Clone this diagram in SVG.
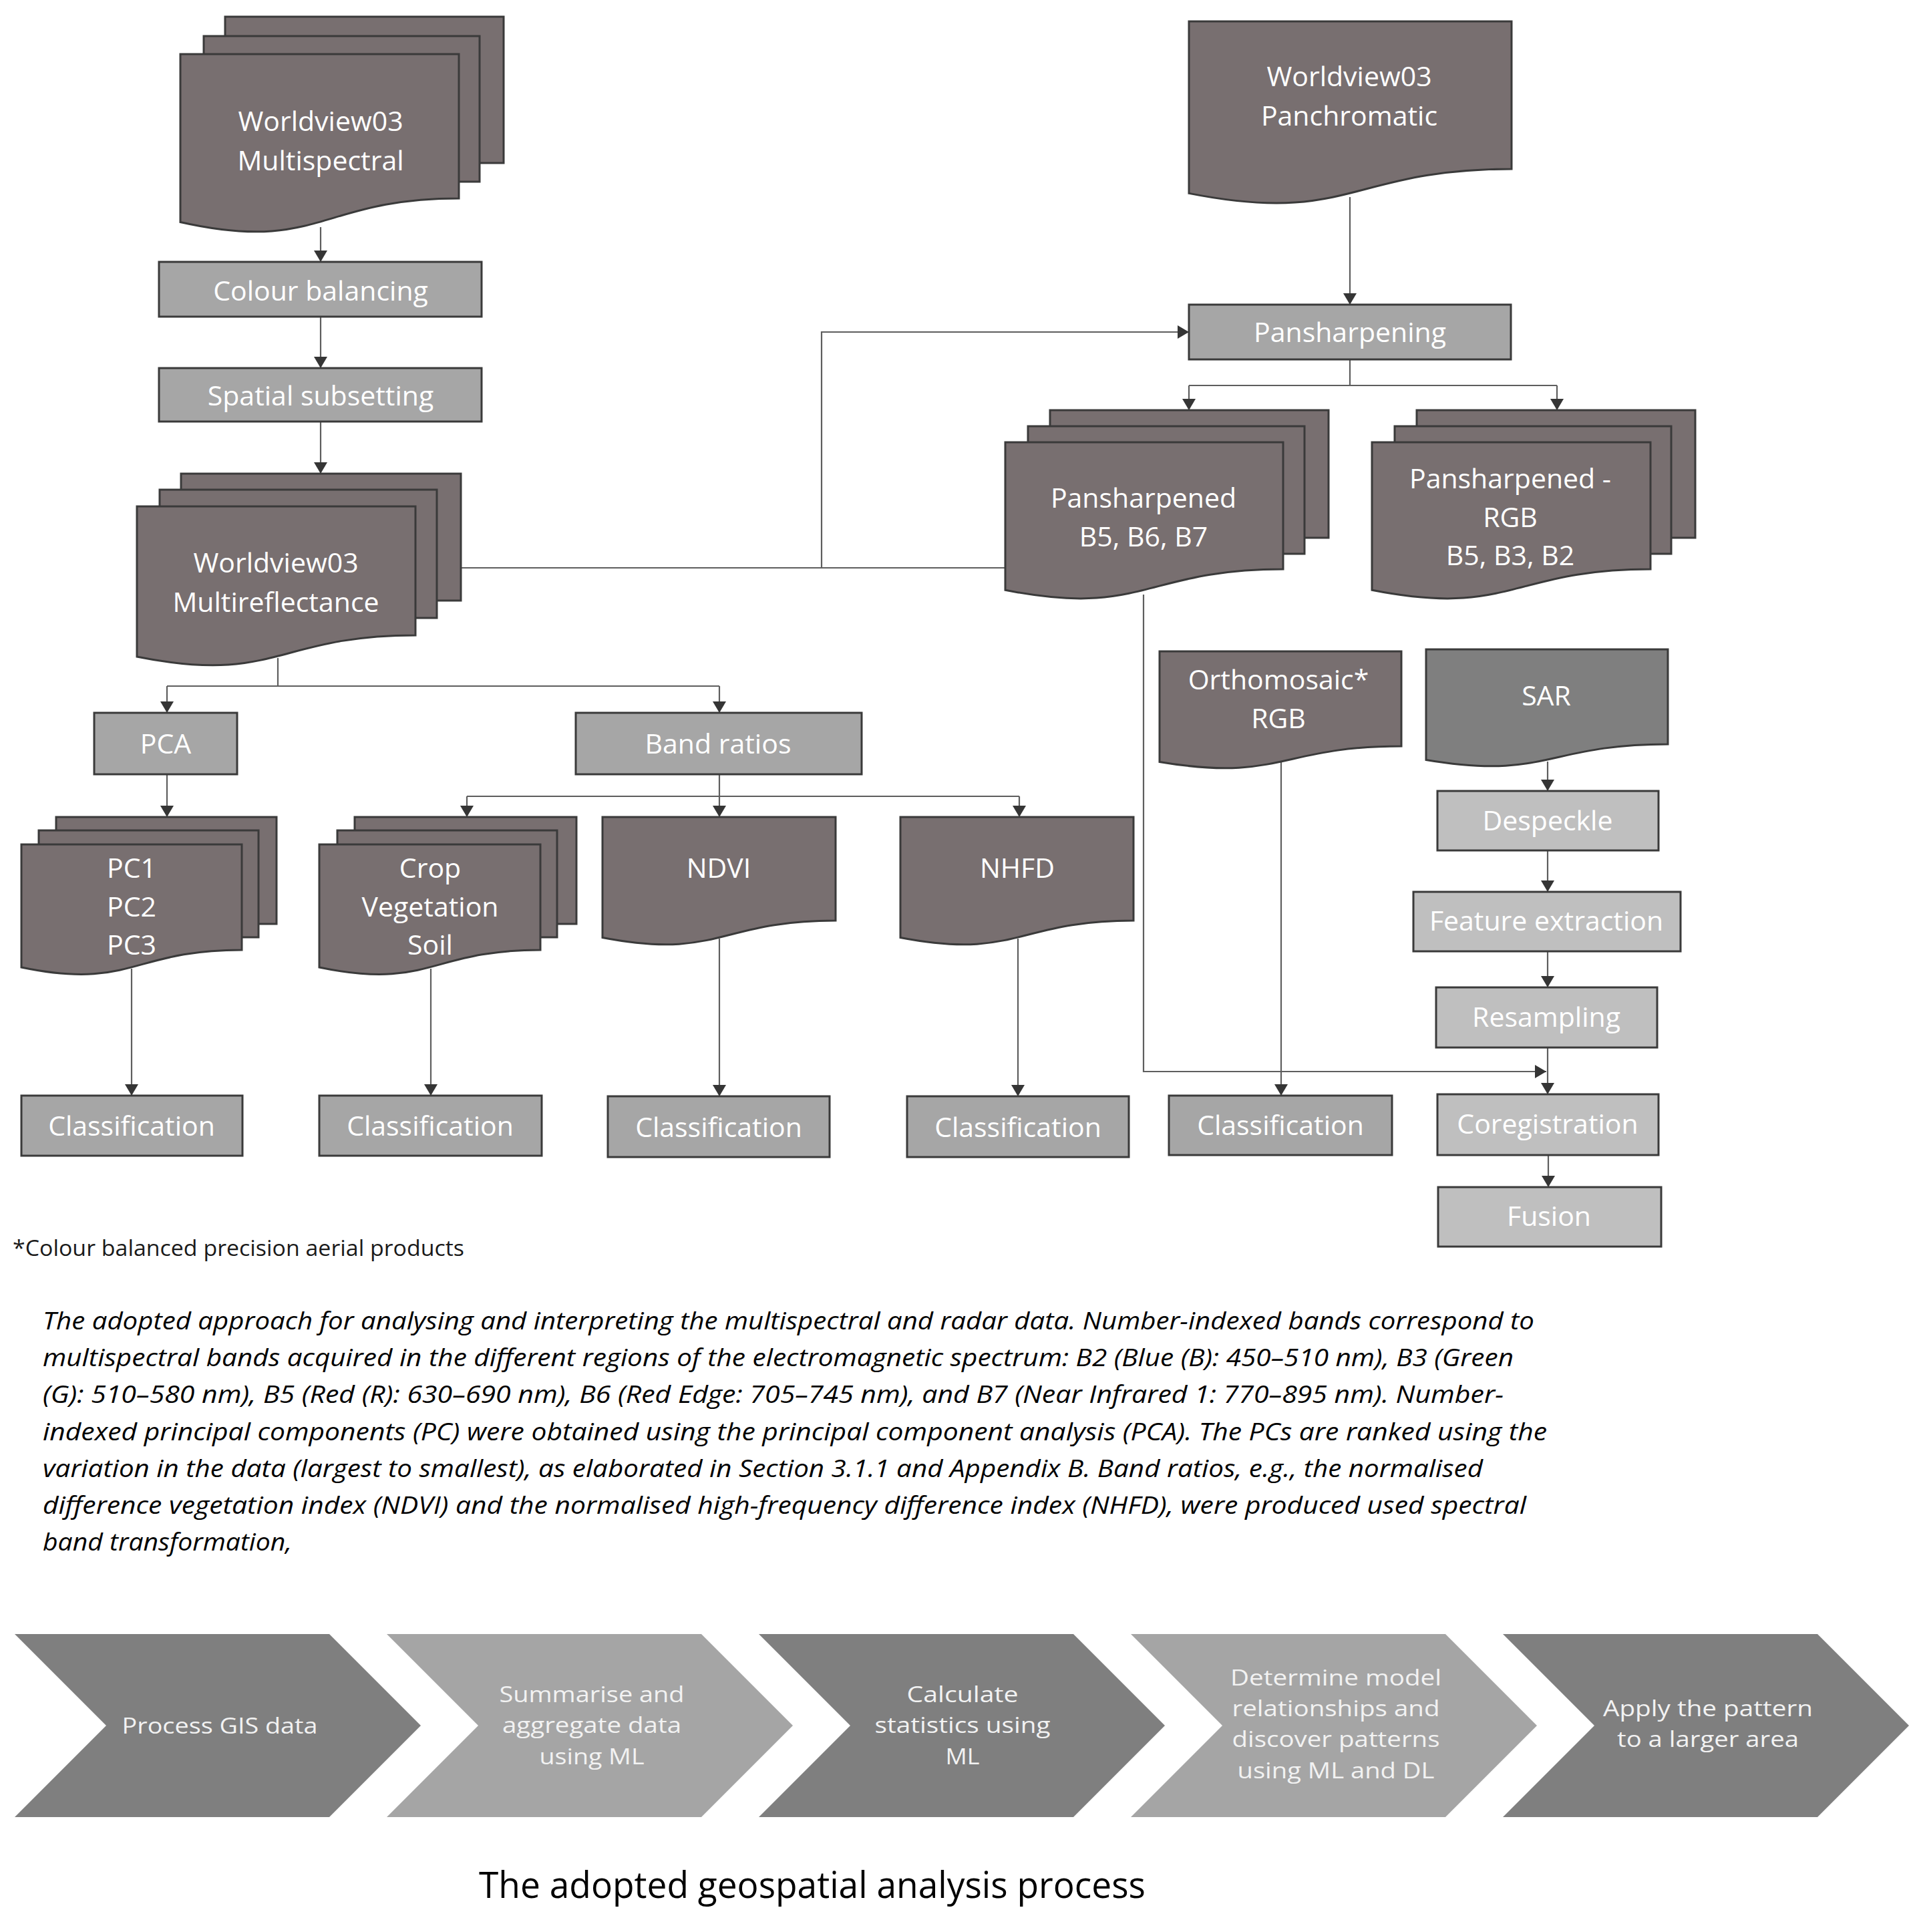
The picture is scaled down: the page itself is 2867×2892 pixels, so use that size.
<svg xmlns="http://www.w3.org/2000/svg" width="2867" height="2892" viewBox="0 0 2867 2892">
<defs>
<style>
.doc{fill:#786f70;stroke:#3a3a3a;stroke-width:3}
.sar{fill:#7f7f7f}
.box{fill:#a6a6a6;stroke:#3a3a3a;stroke-width:3}
.lbox{fill:#bfbfbf;stroke:#3a3a3a;stroke-width:3}
.lbl{font-family:"Open Sans","Noto Sans",sans-serif;font-size:41px;fill:#ffffff;text-anchor:middle}
.con{stroke:#5e5e5e;stroke-width:2.2;fill:none}
.arr{marker-end:url(#ah)}
.cap{font-family:"Open Sans","Noto Sans",sans-serif;font-size:36px;font-style:italic;fill:#000}
.note{font-family:"Open Sans","Noto Sans",sans-serif;font-size:32px;fill:#1a1a1a}
.chd{fill:#7f7f7f}
.chl{fill:#a5a5a5}
.cht{font-family:"Open Sans","Noto Sans",sans-serif;font-size:33px;fill:#f2f2f2;text-anchor:middle}
.title{font-family:"Open Sans","Noto Sans",sans-serif;font-size:55px;fill:#000}
</style>
<marker id="ah" viewBox="0 0 17 20" markerWidth="17" markerHeight="20" refX="17" refY="10" orient="auto" markerUnits="userSpaceOnUse">
<path d="M0,0 L17,10 L0,20 Z" fill="#353535"/>
</marker>
</defs>
<rect x="0" y="0" width="2867" height="2892" fill="#ffffff"/>

<g id="connectors">
<path class="con arr" d="M480,340 V392"/>
<path class="con arr" d="M480,474 V551"/>
<path class="con arr" d="M480,631 V709"/>
<path class="con" d="M680,850 H1510"/>
<path class="con arr" d="M1230,850 V497 H1780"/>
<path class="con arr" d="M2021,295 V456"/>
<path class="con" d="M2021,538 V577 M1780,577 H2331"/>
<path class="con arr" d="M1780,577 V614"/>
<path class="con arr" d="M2331,577 V614"/>
<path class="con" d="M416,985 V1027 M250,1027 H1077"/>
<path class="con arr" d="M250,1027 V1067"/>
<path class="con arr" d="M1077,1027 V1067"/>
<path class="con arr" d="M250,1159 V1223"/>
<path class="con" d="M1077,1159 V1192 M699,1192 H1526"/>
<path class="con arr" d="M699,1192 V1223"/>
<path class="con arr" d="M1077,1192 V1223"/>
<path class="con arr" d="M1526,1192 V1223"/>
<path class="con arr" d="M197,1450 V1640"/>
<path class="con arr" d="M645,1450 V1640"/>
<path class="con arr" d="M1077,1405 V1641"/>
<path class="con arr" d="M1524,1405 V1641"/>
<path class="con arr" d="M1918,1140 V1640"/>
<path class="con arr" d="M2317,1140 V1184"/>
<path class="con arr" d="M2317,1273 V1335"/>
<path class="con arr" d="M2317,1424 V1478"/>
<path class="con arr" d="M2317,1568 V1638"/>
<path class="con arr" d="M1712,890 V1604 H2315"/>
<path class="con arr" d="M2318,1729 V1777"/>
</g>

<g id="multispectral">
<rect class="doc" x="337" y="25" width="417" height="219"/>
<rect class="doc" x="305" y="54" width="413" height="218"/>
<path class="doc" d="M270,81 H687 V297 C478.5,297 478.5,379.3 270,332.5 Z"/>
<text class="lbl" x="480" y="196">Worldview03</text>
<text class="lbl" x="480" y="255">Multispectral</text>
</g>

<g id="colour-balancing">
<rect class="box" x="238" y="392" width="483" height="82"/>
<text class="lbl" x="480" y="450">Colour balancing</text>
</g>

<g id="spatial-subsetting">
<rect class="box" x="238" y="551" width="483" height="80"/>
<text class="lbl" x="480" y="607">Spatial subsetting</text>
</g>

<g id="multireflectance">
<rect class="doc" x="271" y="709" width="419" height="190"/>
<rect class="doc" x="239" y="733" width="415" height="192"/>
<path class="doc" d="M205,758 H622 V951 C413.5,951 413.5,1025 205,983 Z"/>
<text class="lbl" x="413" y="857">Worldview03</text>
<text class="lbl" x="413" y="916">Multireflectance</text>
</g>

<g id="panchromatic">
<path class="doc" d="M1780,32 H2263 V253 C2021.5,253 2021.5,337.2 1780,289.4 Z"/>
<text class="lbl" x="2020" y="129">Worldview03</text>
<text class="lbl" x="2020" y="188">Panchromatic</text>
</g>

<g id="pansharpening">
<rect class="box" x="1780" y="456" width="482" height="82"/>
<text class="lbl" x="2021" y="512">Pansharpening</text>
</g>

<g id="pansharpened-b567">
<rect class="doc" x="1572" y="614" width="417" height="191"/>
<rect class="doc" x="1539" y="638" width="414" height="191"/>
<path class="doc" d="M1505,662 H1921 V852 C1713,852 1713,924.4 1505,883.3 Z"/>
<text class="lbl" x="1712" y="760">Pansharpened</text>
<text class="lbl" x="1712" y="818">B5, B6, B7</text>
</g>

<g id="pansharpened-rgb">
<rect class="doc" x="2121" y="614" width="417" height="191"/>
<rect class="doc" x="2088" y="638" width="414" height="191"/>
<path class="doc" d="M2054,662 H2471 V852 C2262.5,852 2262.5,924.4 2054,883.3 Z"/>
<text class="lbl" x="2261" y="731">Pansharpened -</text>
<text class="lbl" x="2261" y="789">RGB</text>
<text class="lbl" x="2261" y="846">B5, B3, B2</text>
</g>

<g id="pca">
<rect class="box" x="141" y="1067" width="214" height="92"/>
<text class="lbl" x="248" y="1128">PCA</text>
</g>

<g id="band-ratios">
<rect class="box" x="862" y="1067" width="428" height="92"/>
<text class="lbl" x="1075" y="1128">Band ratios</text>
</g>

<g id="pc-stack">
<rect class="doc" x="84" y="1223" width="330" height="160"/>
<rect class="doc" x="58" y="1243" width="329" height="160"/>
<path class="doc" d="M32,1264 H362 V1422 C197,1422 197,1482.2 32,1448 Z"/>
<text class="lbl" x="197" y="1314">PC1</text>
<text class="lbl" x="197" y="1372">PC2</text>
<text class="lbl" x="197" y="1429">PC3</text>
</g>

<g id="crop-stack">
<rect class="doc" x="531" y="1223" width="332" height="160"/>
<rect class="doc" x="505" y="1243" width="329" height="160"/>
<path class="doc" d="M478,1264 H809 V1422 C643.5,1422 643.5,1482.2 478,1448 Z"/>
<text class="lbl" x="644" y="1314">Crop</text>
<text class="lbl" x="644" y="1372">Vegetation</text>
<text class="lbl" x="644" y="1429">Soil</text>
</g>

<g id="ndvi">
<path class="doc" d="M902,1223 H1251 V1378 C1076.5,1378 1076.5,1437.1 902,1403.5 Z"/>
<text class="lbl" x="1076" y="1314">NDVI</text>
</g>

<g id="nhfd">
<path class="doc" d="M1348,1223 H1697 V1378 C1522.5,1378 1522.5,1437.1 1348,1403.5 Z"/>
<text class="lbl" x="1523" y="1314">NHFD</text>
</g>

<g id="orthomosaic">
<path class="doc" d="M1736,975 H2098 V1117 C1917,1117 1917,1171.1 1736,1140.4 Z"/>
<text class="lbl" x="1914" y="1032">Orthomosaic*</text>
<text class="lbl" x="1914" y="1090">RGB</text>
</g>

<g id="sar">
<path class="doc sar" d="M2135,972 H2497 V1114 C2316,1114 2316,1168.1 2135,1137.4 Z"/>
<text class="lbl" x="2315" y="1056">SAR</text>
</g>

<g id="despeckle">
<rect class="lbox" x="2152" y="1184" width="331" height="89"/>
<text class="lbl" x="2317" y="1243">Despeckle</text>
</g>

<g id="feature-extraction">
<rect class="lbox" x="2116" y="1335" width="400" height="89"/>
<text class="lbl" x="2315" y="1393">Feature extraction</text>
</g>

<g id="resampling">
<rect class="lbox" x="2150" y="1478" width="331" height="90"/>
<text class="lbl" x="2315" y="1537">Resampling</text>
</g>

<g id="coregistration">
<rect class="lbox" x="2152" y="1638" width="331" height="91"/>
<text class="lbl" x="2317" y="1697">Coregistration</text>
</g>

<g id="fusion">
<rect class="lbox" x="2153" y="1777" width="334" height="89"/>
<text class="lbl" x="2319" y="1835">Fusion</text>
</g>

<g id="classification-1">
<rect class="box" x="32" y="1640" width="331" height="90"/>
<text class="lbl" x="197" y="1700">Classification</text>
</g>
<g id="classification-2">
<rect class="box" x="478" y="1640" width="333" height="90"/>
<text class="lbl" x="644" y="1700">Classification</text>
</g>
<g id="classification-3">
<rect class="box" x="910" y="1641" width="332" height="91"/>
<text class="lbl" x="1076" y="1702">Classification</text>
</g>
<g id="classification-4">
<rect class="box" x="1358" y="1641" width="332" height="91"/>
<text class="lbl" x="1524" y="1702">Classification</text>
</g>
<g id="classification-5">
<rect class="box" x="1750" y="1640" width="334" height="89"/>
<text class="lbl" x="1917" y="1699">Classification</text>
</g>

<g id="footnote">
<text class="note" x="19" y="1880" textLength="676" lengthAdjust="spacingAndGlyphs">*Colour balanced precision aerial products</text>
</g>

<g id="caption">
<text class="cap" x="64" y="1990" textLength="2233" lengthAdjust="spacingAndGlyphs">The adopted approach for analysing and interpreting the multispectral and radar data. Number-indexed bands correspond to</text>
<text class="cap" x="64" y="2045" textLength="2202" lengthAdjust="spacingAndGlyphs">multispectral bands acquired in the different regions of the electromagnetic spectrum: B2 (Blue (B): 450–510 nm), B3 (Green</text>
<text class="cap" x="64" y="2100" textLength="2187" lengthAdjust="spacingAndGlyphs">(G): 510–580 nm), B5 (Red (R): 630–690 nm), B6 (Red Edge: 705–745 nm), and B7 (Near Infrared 1: 770–895 nm). Number-</text>
<text class="cap" x="64" y="2156" textLength="2252" lengthAdjust="spacingAndGlyphs">indexed principal components (PC) were obtained using the principal component analysis (PCA). The PCs are ranked using the</text>
<text class="cap" x="64" y="2211" textLength="2156" lengthAdjust="spacingAndGlyphs">variation in the data (largest to smallest), as elaborated in Section 3.1.1 and Appendix B. Band ratios, e.g., the normalised</text>
<text class="cap" x="64" y="2266" textLength="2221" lengthAdjust="spacingAndGlyphs">difference vegetation index (NDVI) and the normalised high-frequency difference index (NHFD), were produced used spectral</text>
<text class="cap" x="64" y="2321" textLength="373" lengthAdjust="spacingAndGlyphs">band transformation,</text>
</g>

<g id="step-1">
<polygon class="chd" points="22,2446 493,2446 630,2583 493,2720 22,2720 159,2583"/>
<text class="cht" x="329" y="2595" textLength="293" lengthAdjust="spacingAndGlyphs">Process GIS data</text>
</g>
<g id="step-2">
<polygon class="chl" points="579,2446 1050,2446 1187,2583 1050,2720 579,2720 716,2583"/>
<text class="cht" x="886" y="2548" textLength="277" lengthAdjust="spacingAndGlyphs">Summarise and</text>
<text class="cht" x="886" y="2594" textLength="268" lengthAdjust="spacingAndGlyphs">aggregate data</text>
<text class="cht" x="886" y="2641" textLength="157" lengthAdjust="spacingAndGlyphs">using ML</text>
</g>
<g id="step-3">
<polygon class="chd" points="1136,2446 1607,2446 1744,2583 1607,2720 1136,2720 1273,2583"/>
<text class="cht" x="1441" y="2548" textLength="167" lengthAdjust="spacingAndGlyphs">Calculate</text>
<text class="cht" x="1441" y="2594" textLength="263" lengthAdjust="spacingAndGlyphs">statistics using</text>
<text class="cht" x="1441" y="2641" textLength="51" lengthAdjust="spacingAndGlyphs">ML</text>
</g>
<g id="step-4">
<polygon class="chl" points="1693,2446 2164,2446 2301,2583 2164,2720 1693,2720 1830,2583"/>
<text class="cht" x="2000" y="2523" textLength="316" lengthAdjust="spacingAndGlyphs">Determine model</text>
<text class="cht" x="2000" y="2569" textLength="311" lengthAdjust="spacingAndGlyphs">relationships and</text>
<text class="cht" x="2000" y="2615" textLength="311" lengthAdjust="spacingAndGlyphs">discover patterns</text>
<text class="cht" x="2000" y="2662" textLength="295" lengthAdjust="spacingAndGlyphs">using ML and DL</text>
</g>
<g id="step-5">
<polygon class="chd" points="2250,2446 2721,2446 2858,2583 2721,2720 2250,2720 2387,2583"/>
<text class="cht" x="2557" y="2569" textLength="314" lengthAdjust="spacingAndGlyphs">Apply the pattern</text>
<text class="cht" x="2557" y="2615" textLength="272" lengthAdjust="spacingAndGlyphs">to a larger area</text>
</g>

<g id="title">
<text class="title" x="717" y="2841" textLength="998" lengthAdjust="spacingAndGlyphs">The adopted geospatial analysis process</text>
</g>
</svg>
